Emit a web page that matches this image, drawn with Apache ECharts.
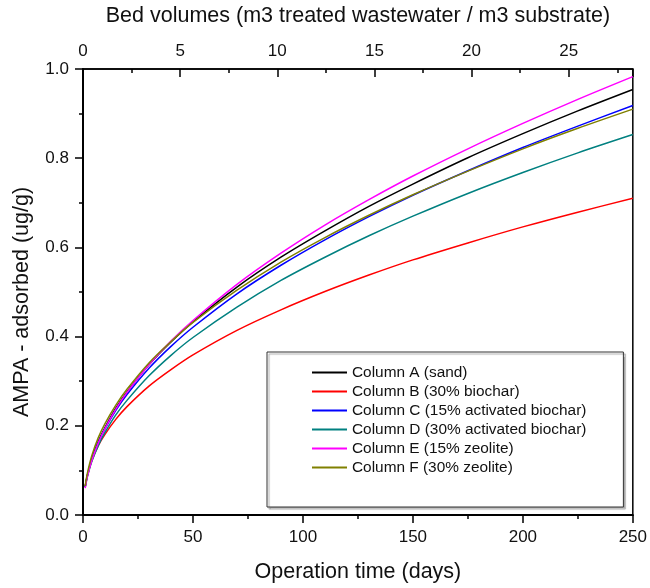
<!DOCTYPE html>
<html>
<head>
<meta charset="utf-8">
<script src="https://cdn.jsdelivr.net/npm/echarts@6/dist/echarts.min.js"></script>
<style>
  html, body { margin: 0; padding: 0; background: #fff; }
  #chart { width: 650px; height: 588px; }
</style>
</head>
<body>
<div id="chart"></div>
<script>
// operation time (days) where the curves were read
const days = [1, 2, 4, 7, 10, 15, 20, 30, 40, 50, 70, 90, 110, 130, 150, 175, 200, 225, 250];

// AMPA adsorbed (ug/g)
const colA = [0.063, 0.089, 0.125, 0.165, 0.196, 0.240, 0.276, 0.337, 0.388, 0.433, 0.511, 0.578, 0.637, 0.692, 0.742, 0.801, 0.855, 0.906, 0.954];
const colB = [0.064, 0.089, 0.122, 0.156, 0.181, 0.215, 0.243, 0.289, 0.326, 0.359, 0.414, 0.460, 0.501, 0.538, 0.572, 0.610, 0.646, 0.679, 0.710];
const colC = [0.063, 0.089, 0.124, 0.163, 0.193, 0.235, 0.270, 0.329, 0.378, 0.421, 0.496, 0.560, 0.617, 0.669, 0.717, 0.772, 0.824, 0.872, 0.918];
const colD = [0.062, 0.086, 0.120, 0.156, 0.185, 0.225, 0.257, 0.312, 0.358, 0.398, 0.466, 0.526, 0.578, 0.626, 0.670, 0.721, 0.768, 0.812, 0.853];
const colE = [0.060, 0.086, 0.122, 0.162, 0.194, 0.238, 0.275, 0.337, 0.390, 0.436, 0.517, 0.587, 0.650, 0.707, 0.760, 0.821, 0.878, 0.932, 0.983];
const colF = [0.065, 0.094, 0.133, 0.174, 0.205, 0.247, 0.282, 0.341, 0.389, 0.432, 0.504, 0.567, 0.622, 0.672, 0.718, 0.771, 0.821, 0.867, 0.910];

const names = [
    'Column A (sand)',
    'Column B (30% biochar)',
    'Column C (15% activated biochar)',
    'Column D (30% activated biochar)',
    'Column E (15% zeolite)',
    'Column F (30% zeolite)'
];
const colors = ['#000000', '#ff0000', '#0000ff', '#008080', '#ff00ff', '#808000'];
const values = [colA, colB, colC, colD, colE, colF];

const font = 'Arial, "Liberation Sans", sans-serif';

var myChart = echarts.init(document.getElementById('chart'));

var option = {
    animation: false,
    grid: {
        left: 83,
        right: 14,
        top: 69,
        bottom: 70,
        show: true,
        borderColor: '#000',
        borderWidth: 1.5
    },
    legend: {
        orient: 'vertical',
        left: 267,
        top: 352,
        data: names,
        icon: 'rect',
        itemWidth: 35,
        itemHeight: 2,
        itemGap: 0,
        padding: [11, 37, 30, 45],
        backgroundColor: '#fff',
        borderColor: '#333',
        borderWidth: 1,
        shadowColor: '#aaa',
        shadowOffsetX: 2,
        shadowOffsetY: 2,
        shadowBlur: 1,
        textStyle: {
            fontFamily: font,
            fontSize: 15.4,
            lineHeight: 19,
            color: '#111'
        }
    },
    xAxis: [{
        type: 'value',
        position: 'bottom',
        min: 0,
        max: 250,
        interval: 50,
        name: 'Operation time (days)',
        nameLocation: 'middle',
        nameGap: 46,
        nameTextStyle: { fontFamily: font, fontSize: 21.5, color: '#111' },
        axisLine: { show: true, lineStyle: { color: '#000', width: 2 } },
        axisTick: { show: true, inside: false, length: 8, lineStyle: { color: '#000', width: 1.5 } },
        minorTick: { show: true, splitNumber: 2, length: 4, lineStyle: { color: '#000', width: 1.5 } },
        axisLabel: { fontFamily: font, fontSize: 17, color: '#111', margin: 14 },
        splitLine: { show: false }
    }, {
        type: 'value',
        position: 'top',
        min: 0,
        max: 28.3,
        interval: 5,
        name: 'Bed volumes (m3 treated wastewater / m3 substrate)',
        nameLocation: 'middle',
        nameGap: 42,
        nameTextStyle: { fontFamily: font, fontSize: 21.5, color: '#111' },
        axisLine: { show: true, lineStyle: { color: '#000', width: 1.5 } },
        axisTick: { show: true, inside: true, length: 8, lineStyle: { color: '#000', width: 1.5 } },
        minorTick: { show: true, splitNumber: 2, length: 4, lineStyle: { color: '#000', width: 1.5 } },
        axisLabel: { fontFamily: font, fontSize: 17, color: '#111', margin: 9, showMaxLabel: false },
        splitLine: { show: false }
    }],
    yAxis: {
        type: 'value',
        min: 0,
        max: 1,
        interval: 0.2,
        name: 'AMPA - adsorbed (ug/g)',
        nameLocation: 'middle',
        nameGap: 50,
        nameTextStyle: { fontFamily: font, fontSize: 21.5, color: '#111', padding: [0, 20, 0, 0] },
        axisLine: { show: true, lineStyle: { color: '#000', width: 2 } },
        axisTick: { show: true, inside: false, length: 8, lineStyle: { color: '#000', width: 1.5 } },
        minorTick: { show: true, splitNumber: 2, length: 4, lineStyle: { color: '#000', width: 1.5 } },
        axisLabel: {
            fontFamily: font,
            fontSize: 17,
            color: '#111',
            margin: 14,
            formatter: function (v) { return v.toFixed(1); }
        },
        splitLine: { show: false }
    },
    series: names.map(function (name, i) {
        return {
            name: name,
            type: 'line',
            xAxisIndex: 0,
            smooth: 0.3,
            symbol: 'none',
            color: colors[i],
            lineStyle: { width: 1.5, color: colors[i] },
            data: days.map(function (d, j) { return [d, values[i][j]]; })
        };
    })
};
myChart.setOption(option);
</script>
</body>
</html>
